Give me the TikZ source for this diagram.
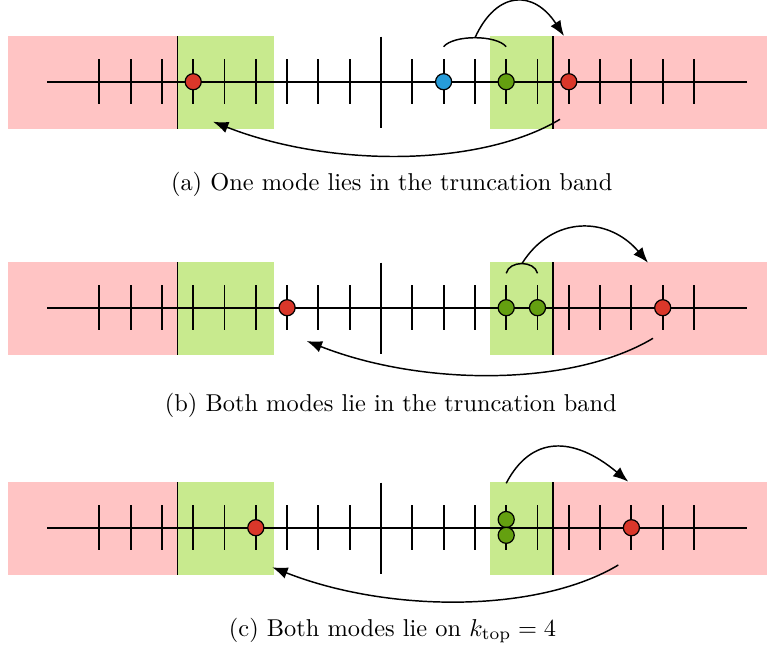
\documentclass[tikz,border=0pt]{standalone}
\usetikzlibrary{arrows.meta}

\definecolor{bandred}{RGB}{255,196,196}
\definecolor{bandgreen}{RGB}{200,234,142}
\definecolor{modered}{RGB}{218,55,42}
\definecolor{modegreen}{RGB}{100,160,16}
\definecolor{modeblue}{RGB}{38,156,218}

\tikzset{
  mode/.style={circle, draw=black, line width=0.5pt, minimum size=6.6pt, inner sep=0pt},
  redmode/.style={mode, fill=modered},
  greenmode/.style={mode, fill=modegreen},
  bluemode/.style={mode, fill=modeblue},
  axisline/.style={line width=0.7pt},
  tickline/.style={line width=0.8pt},
  divider/.style={line width=0.6pt},
  pairarc/.style={line width=0.6pt},
  jump/.style={line width=0.6pt, -{Latex[length=6.3pt,width=4.8pt]}},
  subcap/.style={anchor=base, inner sep=0pt}
}

% bands, axis and ticks of one truncation picture (axis at y = 0)
\newcommand\truncaxis{%
  \fill[bandred]   (8,-45.7)      rectangle (177.55,47.5);
  \fill[bandgreen] (177.55,-45.7) rectangle (274,47.5);
  \fill[bandgreen] (490,-45.7)    rectangle (553.15,47.5);
  \fill[bandred]   (553.15,-45.7) rectangle (767,47.5);
  \draw[divider] (177.55,-45.7) -- (177.55,47.5);
  \draw[divider] (553.15,-45.7) -- (553.15,47.5);
  \draw[axisline] (47,0) -- (747,0);
  \foreach \k in {-9,...,10}
    \draw[tickline] ({381+31.3*(\k)},-22.5) -- ({381+31.3*(\k)},22.5);
  \draw[tickline] (381,-45) -- (381,46.7);
}

\begin{document}
\begin{tikzpicture}[x=0.41pt, y=-0.41pt]
\useasboundingbox (0,0) rectangle (767,651);

% (a) one mode in the band
\begin{scope}[shift={(0,81.7)}]
  \truncaxis
  \node[redmode]   (a-r1) at ({381+31.3*(-6)},0) {};
  \node[bluemode]  (a-b)  at ({381+31.3*2},0) {};
  \node[greenmode] (a-g)  at ({381+31.3*4},0) {};
  \node[redmode]   (a-r2) at ({381+31.3*6},0) {};
  \coordinate (a-p1) at ({381+31.3*2},-35);
  \coordinate (a-p2) at ({381+31.3*4},-35);
  \coordinate (a-s)  at (475,-44);
  \coordinate (a-t)  at (564,-45.7);
  \coordinate (a-u)  at (560,37.6);
  \coordinate (a-v)  at (213,40);
  \draw[pairarc] (a-p1) .. controls +(10,-12) and +(-10,-12) .. (a-p2);
  \draw[jump] (a-s) .. controls +(22,-48) and +(-30,-46) .. (a-t);
  \draw[jump] (a-u) .. controls +(-80,48) and +(117,46) .. (a-v);
\end{scope}
\node[subcap] (capa) at (391.7,190.5) {(a) One mode lies in the truncation band};

% (b) both modes in the band
\begin{scope}[shift={(0,307.7)}]
  \truncaxis
  \node[redmode]   (b-r1) at ({381+31.3*(-3)},0) {};
  \node[greenmode] (b-g1) at ({381+31.3*4},0) {};
  \node[greenmode] (b-g2) at ({381+31.3*5},0) {};
  \node[redmode]   (b-r2) at ({381+31.3*9},0) {};
  \coordinate (b-p1) at ({381+31.3*4},-34.4);
  \coordinate (b-p2) at ({381+31.3*5},-34.4);
  \coordinate (b-s)  at (522,-44.2);
  \coordinate (b-t)  at (648,-45);
  \coordinate (b-u)  at (653,30.6);
  \coordinate (b-v)  at (306.7,33.3);
  \draw[pairarc] (b-p1) .. controls +(3,-13) and +(-3,-13) .. (b-p2);
  \draw[jump] (b-s) .. controls +(30,-48) and +(-40,-47) .. (b-t);
  \draw[jump] (b-u) .. controls +(-80,48) and +(117,46) .. (b-v);
\end{scope}
\node[subcap] (capb) at (390.8,411.7) {(b) Both modes lie in the truncation band};

% (c) both modes on the same level
\begin{scope}[shift={(0,527.7)}]
  \truncaxis
  \node[redmode]   (c-r1) at ({381+31.3*(-4)},0) {};
  \node[greenmode] (c-g1) at ({381+31.3*4},-8.2) {};
  \node[greenmode] (c-g2) at ({381+31.3*4},7.6) {};
  \node[redmode]   (c-r2) at ({381+31.3*8},0) {};
  \coordinate (c-s)  at ({381+31.3*4},-44.4);
  \coordinate (c-t)  at (628.3,-46);
  \coordinate (c-u)  at (618.3,37.3);
  \coordinate (c-v)  at (272.3,39.6);
  \draw[jump] (c-s) .. controls +(25,-48) and +(-55,-46) .. (c-t);
  \draw[jump] (c-u) .. controls +(-80,48) and +(117,46) .. (c-v);
\end{scope}
\node[subcap] (capc) at (392.5,636) {(c) Both modes lie on $k_{\mathrm{top}} = 4$};

\end{tikzpicture}
\end{document}
